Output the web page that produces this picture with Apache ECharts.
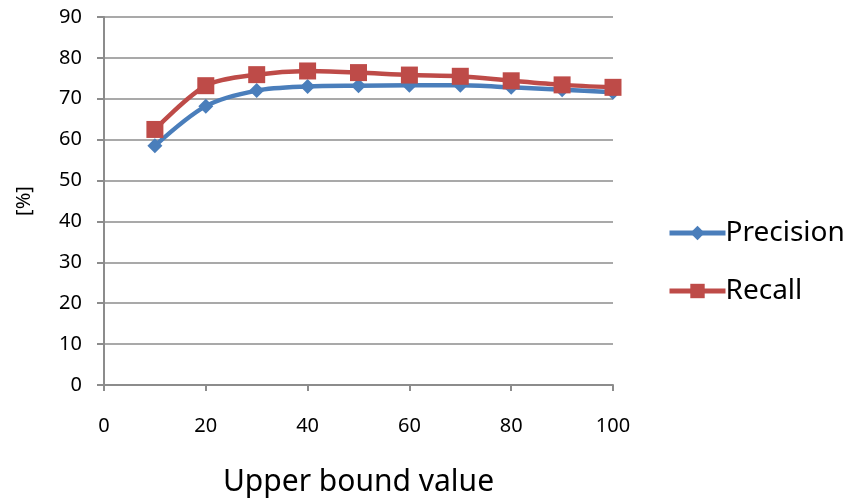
<!DOCTYPE html>
<html><head><meta charset="utf-8">
<script src="https://cdn.jsdelivr.net/npm/echarts@6/dist/echarts.min.js"></script>
<style>html,body{margin:0;padding:0;background:#fff}#c{width:859px;height:502px}</style>
</head><body><div id="c"></div>
<script>
const xValues = [10, 20, 30, 40, 50, 60, 70, 80, 90, 100];
const precision = [58.5, 68.2, 72.0, 73.0, 73.2, 73.3, 73.3, 72.8, 72.2, 71.6];
const recall = [62.5, 73.2, 75.9, 76.8, 76.4, 75.8, 75.5, 74.4, 73.4, 72.8];
const seriesNames = ['Precision', 'Recall'];
const xAxisTitle = 'Upper bound value';
const yAxisTitle = '[%]';

const font = 'Noto Sans';
const chart = echarts.init(document.getElementById('c'), null, {renderer: 'canvas'});
const axisGray = '#8c8c8c';
chart.setOption({
  animation: false,
  backgroundColor: '#fff',
  grid: {left: 104, right: 246, top: 17, bottom: 117},
  legend: {
    orient: 'vertical', left: 662, top: 214, itemGap: 30,
    itemWidth: 56, itemHeight: 18,
    lineStyle: {width: 5},
    textStyle: {fontFamily: font, fontSize: 28, color: '#000', padding: [0,0,0,-5]},
    data: seriesNames
  },
  xAxis: {
    type: 'value', min: 0, max: 100, interval: 20,
    name: xAxisTitle, nameLocation: 'middle', nameGap: 82,
    nameTextStyle: {fontFamily: font, fontSize: 30, color: '#000'},
    axisLine: {lineStyle: {color: axisGray, width: 2}},
    axisTick: {show: true, length: 6, lineStyle: {color: axisGray, width: 2}},
    axisLabel: {fontFamily: font, fontSize: 20, color: '#000', margin: 31},
    splitLine: {show: false}
  },
  yAxis: {
    type: 'value', min: 0, max: 90, interval: 10,
    name: yAxisTitle, nameLocation: 'middle', nameGap: 70, nameRotate: 90,
    nameTextStyle: {fontFamily: font, fontSize: 20, color: '#000'},
    axisLine: {show: true, lineStyle: {color: axisGray, width: 2}},
    axisTick: {show: true, length: 7, lineStyle: {color: axisGray, width: 2}},
    axisLabel: {fontFamily: font, fontSize: 20, color: '#000', margin: 22},
    splitLine: {lineStyle: {color: axisGray, width: 1.5}}
  },
  series: [
    {
      name: seriesNames[0], type: 'line', smooth: 0.3,
      data: xValues.map((x, i) => [x, precision[i]]),
      symbol: 'diamond', symbolSize: 15,
      lineStyle: {color: '#4a7ebb', width: 4.5},
      itemStyle: {color: '#4a7ebb'}, z: 2
    },
    {
      name: seriesNames[1], type: 'line', smooth: 0.3,
      data: xValues.map((x, i) => [x, recall[i]]),
      symbol: 'rect', symbolSize: 17,
      lineStyle: {color: '#be4b48', width: 4.5},
      itemStyle: {color: '#be4b48'}, z: 3
    }
  ]
});
</script></body></html>
